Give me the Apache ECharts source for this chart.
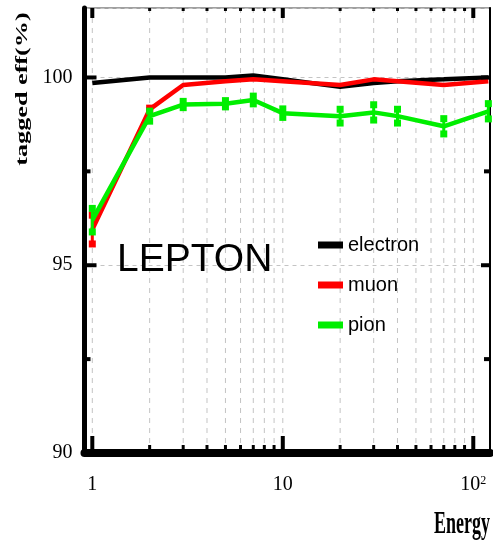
<!DOCTYPE html>
<html><head><meta charset="utf-8">
<script src="https://cdn.jsdelivr.net/npm/echarts@6/dist/echarts.min.js"></script>
<style>html,body{margin:0;padding:0;background:#fff}#c{width:493px;height:545px}</style>
</head><body><div id="c"></div>
<script>
// ---- data ----
const energy   = [1, 2, 3, 5, 7, 10, 20, 30, 40, 70, 120];
const electron = [99.85, 100.0, 100.0, 100.0, 100.05, 99.95, 99.75, 99.85, 99.9, 99.95, 100.0];
const muon     = [95.95, 99.15, 99.8, 99.9, 99.95, 99.9, 99.8, 99.95, 99.9, 99.8, 99.9];
const pion     = [96.2, 98.97, 99.28, 99.3, 99.4, 99.05, 98.97, 99.07, 98.97, 98.7, 99.1];
const muonErr  = [0.45, 0.1, 0, 0, 0, 0, 0, 0, 0, 0, 0];
const pionErr  = [0.38, 0.2, 0.15, 0.15, 0.17, 0.18, 0.25, 0.27, 0.25, 0.27, 0.27];
const seriesNames = ['electron', 'muon', 'pion'];
const xTickValues = [1,2,3,4,5,6,7,8,9,10,20,30,40,50,60,70,80,90,100];
const yTickValues = [90, 92.5, 95, 97.5, 100];
const X_MIN = 0.91, X_MAX = 122.4, Y_MIN = 90, Y_MAX = 101.85;

const colors = {electron: '#000000', muon: '#ff0000', pion: '#00ee00'};

function zip(xs, ys) { return xs.map((x, i) => [x, ys[i]]); }
function errData(xs, ys, es) {
  const out = [];
  xs.forEach((x, i) => { if (es[i] > 0) out.push([x, ys[i] - es[i], ys[i] + es[i]]); });
  return out;
}
function isMajor(v) { const l = Math.log10(v); return Math.abs(l - Math.round(l)) < 1e-9; }

function renderXTicks(params, api) {
  const x = api.value(0);
  const b = api.coord([x, Y_MIN]);
  const t = api.coord([x, Y_MAX]);
  const major = isMajor(x);
  const lb = major ? 17 : 8, lt = major ? 10 : 3;
  return {type: 'group', children: [
    {type: 'line', shape: {x1: b[0], y1: b[1], x2: t[0], y2: t[1]},
     style: {stroke: '#c4c4c4', lineWidth: 1, lineDash: [5, 5]}},
    {type: 'line', shape: {x1: b[0], y1: b[1], x2: b[0], y2: b[1] - lb},
     style: {stroke: '#000', lineWidth: major ? 4 : 3}},
    {type: 'line', shape: {x1: t[0], y1: t[1], x2: t[0], y2: t[1] + lt},
     style: {stroke: '#000', lineWidth: major ? 4 : 3}}
  ]};
}
function renderYTicks(params, api) {
  const y = api.value(1);
  const l = api.coord([X_MIN, y]);
  const r = api.coord([X_MAX, y]);
  const major = Math.abs(y % 5) < 1e-9;
  const ll = major ? 12 : 6, lr = major ? 9 : 6;
  return {type: 'group', children: [
    {type: 'line', shape: {x1: l[0], y1: l[1], x2: l[0] + ll, y2: l[1]},
     style: {stroke: '#000', lineWidth: 4}},
    {type: 'line', shape: {x1: r[0], y1: r[1], x2: r[0] - lr, y2: r[1]},
     style: {stroke: '#000', lineWidth: 4}}
  ]};
}
function makeErrRender(color) {
  return function (params, api) {
    const x = api.value(0);
    const lo = api.coord([x, api.value(1)]);
    const hi = api.coord([x, api.value(2)]);
    return {type: 'group', children: [
      {type: 'line', shape: {x1: lo[0], y1: lo[1], x2: hi[0], y2: hi[1]},
       style: {stroke: color, lineWidth: 3}},
      {type: 'rect', shape: {x: lo[0] - 3.5, y: lo[1] - 6, width: 7, height: 7}, style: {fill: color}},
      {type: 'rect', shape: {x: hi[0] - 3.5, y: hi[1] - 1, width: 7, height: 7}, style: {fill: color}}
    ]};
  };
}

const chart = echarts.init(document.getElementById('c'), null, {renderer: 'canvas'});
const option = {
  animation: false,
  backgroundColor: '#fff',
  grid: {left: 84.5, right: 3, top: 8, bottom: 92, show: true,
         borderColor: '#a0a0a0', borderWidth: 2, backgroundColor: 'transparent'},
  legend: {
    orient: 'vertical', left: 313, top: 230, itemWidth: 25, itemHeight: 7, itemGap: 20,
    icon: 'rect', data: seriesNames,
    textStyle: {fontSize: 20, fontFamily: 'Liberation Sans', color: '#000'}
  },
  xAxis: {
    type: 'log', logBase: 10, min: X_MIN, max: X_MAX, position: 'bottom',
    axisLine: {onZero: false, lineStyle: {color: '#000', width: 8}},
    axisTick: {show: false},
    splitLine: {show: false},
    axisLabel: {
      margin: 22, color: '#000', fontFamily: 'Liberation Serif', fontSize: 20,
      formatter: function (v) {
        if (!isMajor(v)) return '';
        const p = Math.round(Math.log10(v));
        if (p === 0) return '1';
        if (p === 1) return '10';
        return '10{sup|' + p + '}';
      },
      rich: {sup: {fontSize: 12, verticalAlign: 'top', fontFamily: 'Liberation Serif', color: '#000'}}
    }
  },
  yAxis: [
    {
      type: 'value', min: Y_MIN, max: Y_MAX, interval: 5, position: 'left',
      axisLine: {onZero: false, lineStyle: {color: '#000', width: 5}},
      axisTick: {show: false},
      splitLine: {show: true, lineStyle: {color: '#c4c4c4', width: 1, type: [4, 4]}},
      axisLabel: {margin: 12, color: '#000', fontFamily: 'Liberation Serif', fontSize: 20, showMaxLabel: false}
    },
    {
      type: 'value', min: Y_MIN, max: Y_MAX, interval: 5, position: 'right',
      axisLine: {show: true, onZero: false, lineStyle: {color: '#000', width: 2}},
      axisTick: {show: false}, axisLabel: {show: false}, splitLine: {show: false}
    }
  ],
  graphic: [
    {type: 'text', x: 117, y: 260, z: 10,
     style: {text: 'LEPTON', font: '39px "Liberation Sans"', fill: '#000', align: 'left', verticalAlign: 'middle'}},
    {type: 'text', x: 490, y: 525.5, scaleY: 1.7, z: 10,
     style: {text: 'Energy', font: 'bold 18px "Liberation Serif"', fill: '#000', align: 'right', verticalAlign: 'middle'}},
    {type: 'text', x: 23, y: 89, rotation: Math.PI / 2, scaleX: 1.54, z: 10,
     style: {text: 'tagged eff(%)', font: 'bold 17px "Liberation Serif"', fill: '#000', align: 'center', verticalAlign: 'middle'}}
  ],
  series: [
    {type: 'custom', name: 'xticks', silent: true, z: 1, clip: false,
     renderItem: renderXTicks, data: xTickValues.map(v => [v, Y_MIN]), encode: {x: 0, y: 1}},
    {type: 'custom', name: 'yticks', silent: true, z: 5, clip: false,
     renderItem: renderYTicks, data: yTickValues.map(v => [X_MIN, v]), encode: {x: 0, y: 1}},
    {type: 'line', name: 'electron', data: zip(energy, electron), symbol: 'none', z: 3,
     color: colors.electron, lineStyle: {width: 4.5, color: colors.electron}},
    {type: 'line', name: 'muon', data: zip(energy, muon), symbol: 'none', z: 3,
     color: colors.muon, lineStyle: {width: 4.5, color: colors.muon}},
    {type: 'custom', name: 'muonErr', silent: true, z: 3,
     renderItem: makeErrRender(colors.muon), data: errData(energy, muon, muonErr), encode: {x: 0, y: [1, 2]}},
    {type: 'line', name: 'pion', data: zip(energy, pion), symbol: 'none', z: 4,
     color: colors.pion, lineStyle: {width: 4.5, color: colors.pion}},
    {type: 'custom', name: 'pionErr', silent: true, z: 4,
     renderItem: makeErrRender(colors.pion), data: errData(energy, pion, pionErr), encode: {x: 0, y: [1, 2]}}
  ]
};
chart.setOption(option);
</script>
</body></html>
